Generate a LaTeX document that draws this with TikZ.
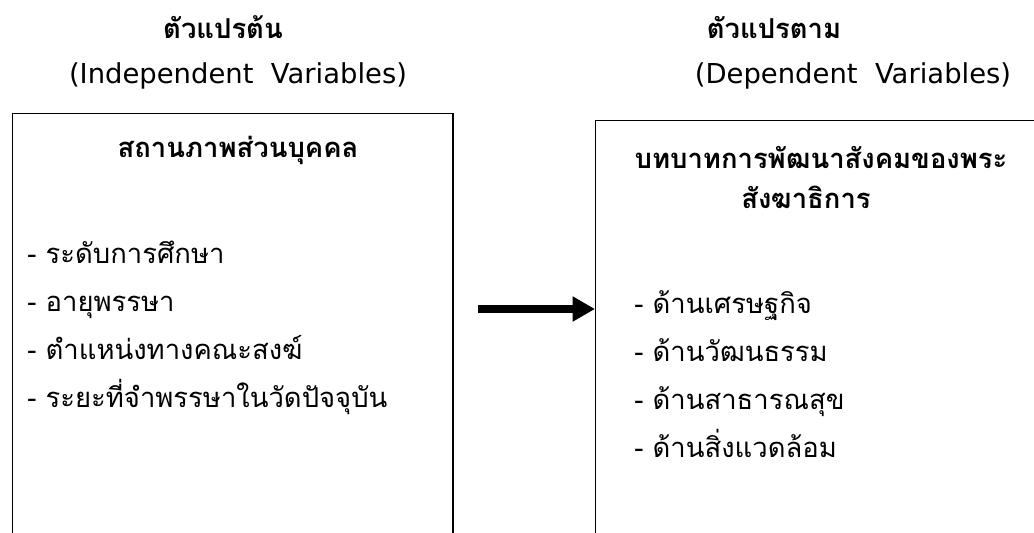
\documentclass[tikz,border=0pt]{standalone}
\usepackage{fontspec}
\setmainfont{Loma}[Script=Thai]
\newfontfamily\latinfont{DejaVu Sans}
\usetikzlibrary{arrows.meta, positioning}

\begin{document}
\begin{tikzpicture} [x=0.025cm, y=-0.025cm, font=\fontsize{19.5}{24}\selectfont,
        box/.style = {draw, line width=1pt, rectangle, anchor=north west, inner sep=0pt},
        head/.style = {anchor=base, inner sep=0pt, font=\fontsize{19.5}{24}\selectfont\bfseries},
        eng/.style = {anchor=base, inner sep=0pt, font=\fontsize{19.5}{24}\selectfont\latinfont},
        item/.style = {anchor=base west, inner sep=0pt}]
        \useasboundingbox (0,0) rectangle (1034,533);
        \clip (0,0) rectangle (1034,533);

        % titles above the boxes
        \node (ivt) [head] at (223,38) {ตัวแปรต้น};
        \node (ive) [eng] at (238,83) {(Independent\ \ Variables)};
        \node (dvt) [head] at (774,38) {ตัวแปรตาม};
        \node (dve) [eng] at (853,83) {(Dependent\ \ Variables)};

        % the two boxes
        \node (iv) [box, minimum width=11cm, minimum height=12cm] at (12,113) {};
        \node (dv) [box, minimum width=11.5cm, minimum height=12cm] at (595,120) {};

        \node (ivh) [head] at (238,157) {สถานภาพส่วนบุคคล};
        \node (dvh1) [head] at (821,168) {บทบาทการพัฒนาสังคมของพระ};
        \node (dvh2) [head] at (806,208) {สังฆาธิการ};

        \foreach \t [count=\i] in {ระดับการศึกษา, อายุพรรษา, ตำแหน่งทางคณะสงฆ์, ระยะที่จำพรรษาในวัดปัจจุบัน}
            \node (iv\i) [item] at (27,{215+48*\i}) {- \t};
        \foreach \t [count=\i] in {ด้านเศรษฐกิจ, ด้านวัฒนธรรม, ด้านสาธารณสุข, ด้านสิ่งแวดล้อม}
            \node (dv\i) [item] at (634,{265+48*\i}) {- \t};

        \coordinate (a0) at (478,309);
        \path [-{Triangle[length=16pt, width=17pt]}, line width=5.5pt] (a0) edge (a0 -| dv.west);
    \end{tikzpicture}
\end{document}
